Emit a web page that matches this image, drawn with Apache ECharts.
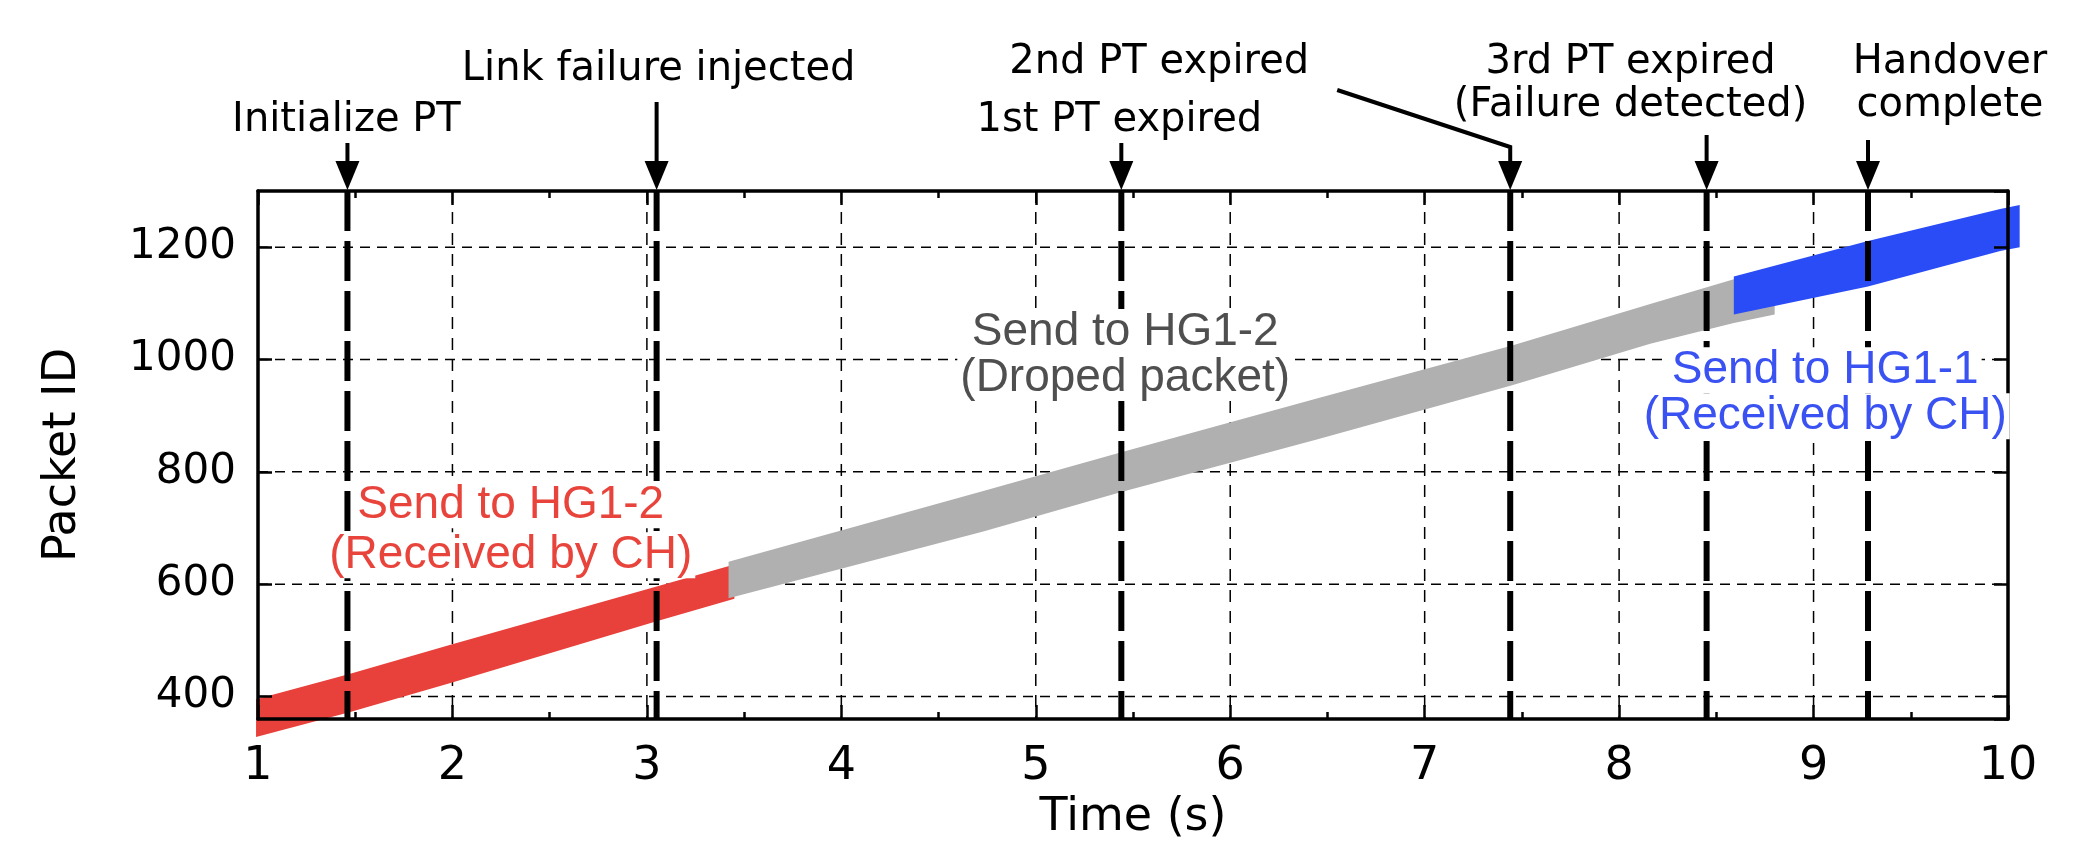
<!DOCTYPE html>
<html>
<head>
<meta charset="utf-8">
<script src="https://cdn.jsdelivr.net/npm/echarts@6/dist/echarts.min.js"></script>
<style>
html,body{margin:0;padding:0;background:#ffffff;}
#chart{width:2099px;height:847px;}
</style>
</head>
<body>
<div id="chart"></div>
<script>
// ---------------- data ----------------
const xTicks = [1, 2, 3, 4, 5, 6, 7, 8, 9, 10];
const yTicks = [400, 600, 800, 1000, 1200];

// packet bands: [time (s), lowest packet ID, highest packet ID]
const redBand  = [[0.99, 328, 395], [1.47, 372, 440], [1.99, 424, 492], [3.05, 534, 596], [3.45, 574, 635]];
const grayBand = [[3.42, 575, 640], [4.73, 694, 766], [5.44, 764, 835], [6.45, 858, 931],
                  [7.45, 954, 1025], [8.16, 1028, 1099], [8.59, 1065, 1143], [8.80, 1080, 1160]];
const blueBand = [[8.59, 1080, 1148], [9.28, 1130, 1211], [9.96, 1193, 1268], [10.06, 1200, 1275]];

const eventTimes  = [1.46, 3.05, 5.44, 7.44, 8.45, 9.28];
const eventLabels = ['Initialize PT', 'Link failure injected', '1st PT expired', '2nd PT expired',
                     '3rd PT expired\n(Failure detected)', 'Handover\ncomplete'];

const bandLabelLines = [['Send to HG1-2', '(Received by CH)'], ['Send to HG1-2', '(Droped packet)'], ['Send to HG1-1', '(Received by CH)']];

// ---------------- layout / style ----------------
const Y_MIN = 360, Y_MAX = 1300, X_MIN = 1, X_MAX = 10;
const FONT = '"DejaVu Sans", sans-serif';
const LABEL_FONT = '"Liberation Sans", Arial, sans-serif';
const RED = '#e8403a', GRAY = '#b0b0b0', BLUE = '#2a4cf6';

// per event: text centre offset from (event x, plot top), arrow start offset, optional bend
const eventLayout = [
  {dx: -1,   dy: -70,    arrowTop: -48},
  {dx: 2,    dy: -121,   arrowTop: -89},
  {dx: -2,   dy: -70,    arrowTop: -48},
  {dx: -351, dy: -128,   arrowTop: -44, bend: [-173, -101]},
  {dx: -76,  dy: -106.5, arrowTop: -56},
  {dx: 82,   dy: -106.5, arrowTop: -51}
];
const bandLabelLayout = [
  {t: 2.30, id: 696,  color: '#e8443c', lineHeight: 50},
  {t: 5.46, id: 1008, color: '#4f4f4f', lineHeight: 46},
  {t: 9.06, id: 940,  color: '#3a52f2', lineHeight: 46}
];

// ---------------- renderers ----------------
function bandRenderer(band, color) {
  return function (params, api) {
    const pts = [];
    band.forEach(d => pts.push(api.coord([d[0], d[2]])));
    for (let i = band.length - 1; i >= 0; i--) pts.push(api.coord([band[i][0], band[i][1]]));
    return {type: 'polygon', shape: {points: pts}, style: {fill: color}};
  };
}

function gridRenderer(params, api) {
  const children = [];
  xTicks.slice(1, -1).forEach(t => {
    const a = api.coord([t, Y_MAX]), b = api.coord([t, Y_MIN]);
    children.push({type: 'line', shape: {x1: a[0], y1: a[1], x2: b[0], y2: b[1]},
      style: {stroke: '#000', lineWidth: 1.5, lineDash: [12, 9]}});
  });
  yTicks.forEach(v => {
    const a = api.coord([X_MIN, v]), b = api.coord([X_MAX, v]);
    children.push({type: 'line', shape: {x1: a[0], y1: a[1], x2: b[0], y2: b[1]},
      style: {stroke: '#000', lineWidth: 1.5, lineDash: [10, 7]}});
  });
  return {type: 'group', children: children};
}

function eventLineRenderer(params, api) {
  const t = api.value(0);
  const a = api.coord([t, Y_MAX]), b = api.coord([t, Y_MIN]);
  return {type: 'line', shape: {x1: a[0], y1: a[1], x2: b[0], y2: b[1]},
    style: {stroke: '#000', lineWidth: 6, lineDash: [40, 10]}};
}

function annotationRenderer(params, api) {
  const i = params.dataIndex;
  const t = api.value(0);
  const top = api.coord([t, Y_MAX]);
  const x = top[0], y = top[1] - 2;
  const L = eventLayout[i];
  const children = [];
  const shaft = [[x, y - 20], [x, y + L.arrowTop + 2]];
  if (L.bend) shaft.push([x + L.bend[0], y + 2 + L.bend[1]]);
  children.push({type: 'polyline', shape: {points: shaft}, style: {stroke: '#000', lineWidth: 4, fill: null}});
  children.push({type: 'polygon', shape: {points: [[x, y + 1], [x - 12, y - 28], [x + 12, y - 28]]}, style: {fill: '#000'}});
  children.push({type: 'text', style: {
    text: eventLabels[i], x: x + L.dx, y: y + 2 + L.dy, align: 'center', verticalAlign: 'middle',
    fontFamily: FONT, fontSize: 40, lineHeight: 43, fill: '#000'}});
  return {type: 'group', children: children};
}

function bandLabelRenderer(params, api) {
  const i = params.dataIndex;
  const L = bandLabelLayout[i];
  const p = api.coord([L.t, L.id]);
  const lines = bandLabelLines[i];
  return {type: 'text', style: {
    text: lines.map(s => '{a|' + s + '}').join('\n'),
    x: p[0], y: p[1], align: 'center', verticalAlign: 'middle',
    rich: {a: {fontFamily: LABEL_FONT, fontSize: 46, lineHeight: L.lineHeight, fill: L.color,
      color: L.color, backgroundColor: '#ffffff', padding: [0, 3, 0, 3]}}
  }};
}

// ---------------- axes ----------------
const frameLine = {show: true, onZero: false, lineStyle: {color: '#000', width: 3.5}};
const tickStyle = {show: true, inside: true, length: 14, lineStyle: {color: '#000', width: 2.5}};

function xAxisCfg(position, labels) {
  return {
    type: 'value', position: position, min: X_MIN, max: X_MAX, interval: 1, z: 5,
    axisLine: frameLine, axisTick: tickStyle,
    minorTick: {show: true, splitNumber: 2, length: 7, lineStyle: {color: '#000', width: 2.5}},
    splitLine: {show: false},
    axisLabel: {show: labels, fontFamily: FONT, fontSize: 46, color: '#000', margin: 25,
      formatter: v => String(v)},
    name: labels ? 'Time (s)' : '', nameLocation: 'middle', nameGap: 72,
    nameTextStyle: {fontFamily: FONT, fontSize: 46, color: '#000'}
  };
}
function yAxisCfg(position, labels) {
  return {
    type: 'value', position: position, min: Y_MIN, max: Y_MAX, minInterval: 200, maxInterval: 200, z: 5,
    axisLine: frameLine, axisTick: tickStyle,
    splitLine: {show: false},
    axisLabel: {show: labels, fontFamily: FONT, fontSize: 42, color: '#000', margin: 22,
      showMinLabel: false, showMaxLabel: false, formatter: v => String(v)},
    name: labels ? 'Packet ID' : '', nameLocation: 'middle', nameGap: 172,
    nameTextStyle: {fontFamily: FONT, fontSize: 46, color: '#000'}
  };
}

const chart = echarts.init(document.getElementById('chart'), null, {renderer: 'canvas'});
chart.setOption({
  backgroundColor: '#ffffff',
  animation: false,
  grid: {left: 258, right: 91, top: 191, bottom: 128, containLabel: false},
  xAxis: [xAxisCfg('bottom', true), xAxisCfg('top', false)],
  yAxis: [yAxisCfg('left', true), yAxisCfg('right', false)],
  series: [
    {type: 'custom', name: 'grid', z: 1, silent: true, clip: false, data: [[X_MIN, Y_MIN]], renderItem: gridRenderer},
    {type: 'custom', name: 'Send to HG1-2 (received)', z: 2, silent: true, clip: false, data: [[redBand[0][0], redBand[0][1]]], renderItem: bandRenderer(redBand, RED)},
    {type: 'custom', name: 'Send to HG1-2 (dropped)', z: 2, silent: true, clip: false, data: [[grayBand[0][0], grayBand[0][1]]], renderItem: bandRenderer(grayBand, GRAY)},
    {type: 'custom', name: 'Send to HG1-1 (received)', z: 2, silent: true, clip: false, data: [[blueBand[0][0], blueBand[0][1]]], renderItem: bandRenderer(blueBand, BLUE)},
    {type: 'custom', name: 'events', z: 3, silent: true, clip: false, data: eventTimes.map(t => [t, Y_MAX]), renderItem: eventLineRenderer},
    {type: 'custom', name: 'annotations', z: 6, silent: true, clip: false, data: eventTimes.map(t => [t, Y_MAX]), renderItem: annotationRenderer},
    {type: 'custom', name: 'bandLabels', z: 6, silent: true, clip: false, data: bandLabelLayout.map(l => [l.t, l.id]), renderItem: bandLabelRenderer}
  ]
});
</script>
</body>
</html>
